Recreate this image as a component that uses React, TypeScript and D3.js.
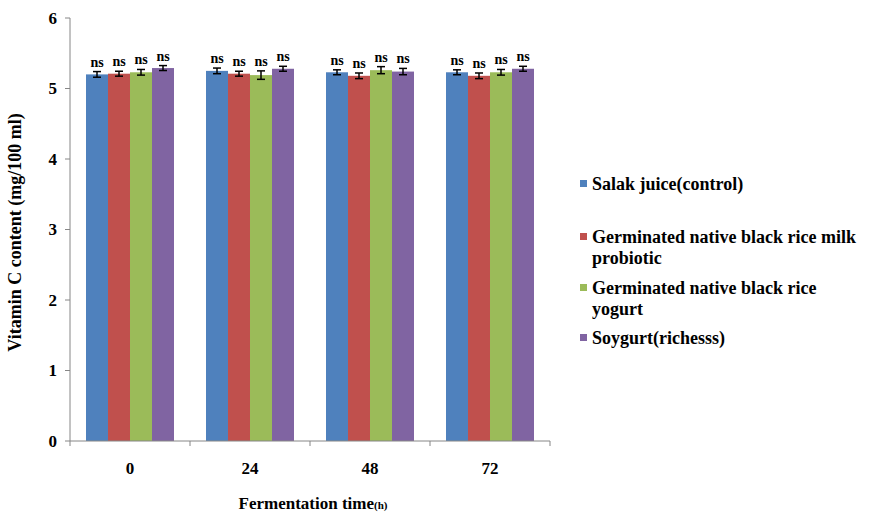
import * as d3 from "d3";

const times = ["0", "24", "48", "72"];
const seriesNames = [
  "Salak juice(control)",
  "Germinated native black rice milk probiotic",
  "Germinated native black rice yogurt",
  "Soygurt(richesss)",
];
const legendLines = [
  ["Salak juice(control)"],
  ["Germinated native black rice milk", "probiotic"],
  ["Germinated native black rice", "yogurt"],
  ["Soygurt(richesss)"],
];
const colors = ["#4F81BD", "#C0504D", "#9BBB59", "#8064A2"];
// values per series, one per fermentation time
const salak = [5.2, 5.25, 5.23, 5.23];
const riceMilk = [5.21, 5.21, 5.18, 5.18];
const riceYogurt = [5.23, 5.19, 5.26, 5.23];
const soygurt = [5.29, 5.28, 5.24, 5.28];
const errors = [
  [0.04, 0.04, 0.035, 0.035],
  [0.035, 0.035, 0.04, 0.04],
  [0.04, 0.06, 0.05, 0.04],
  [0.035, 0.035, 0.045, 0.035],
];
const yTicks = [0, 1, 2, 3, 4, 5, 6];

const W = 869;
const H = 517;
const margin = { top: 18, left: 70, right: 319, bottom: 76 };
const FONT = "'Liberation Serif', 'Times New Roman', serif";

export default function App() {
  const values = [salak, riceMilk, riceYogurt, soygurt];
  const plotW = W - margin.left - margin.right;
  const plotH = H - margin.top - margin.bottom;

  const x = d3.scaleBand().domain(times).range([0, plotW]).paddingInner(0).paddingOuter(0);
  const inner = d3
    .scaleBand()
    .domain(seriesNames)
    .range([16, x.bandwidth() - 16]);
  const y = d3.scaleLinear().domain([0, 6]).range([plotH, 0]);

  const boundaries = [0, ...times.map((t) => (x(t) as number) + x.bandwidth())];

  return (
    <svg
      width={W}
      height={H}
      style={{ position: "absolute", left: 0, top: 0, background: "#fff" }}
    >
      <g transform={`translate(${margin.left},${margin.top})`} fontFamily={FONT} fontWeight="bold">
        {/* bars */}
        {seriesNames.map((s, si) => (
          <g key={s} fill={colors[si]}>
            {times.map((t, ti) => {
              const v = values[si][ti];
              return (
                <rect
                  key={t}
                  x={(x(t) as number) + (inner(s) as number)}
                  y={y(v)}
                  width={inner.bandwidth()}
                  height={plotH - y(v)}
                />
              );
            })}
          </g>
        ))}
        {/* error bars and ns labels */}
        {seriesNames.map((s, si) =>
          times.map((t, ti) => {
            const v = values[si][ti];
            const e = errors[si][ti];
            const cx = (x(t) as number) + (inner(s) as number) + inner.bandwidth() / 2;
            return (
              <g key={s + t}>
                <g stroke="#000" strokeWidth={1.5}>
                  <line x1={cx} x2={cx} y1={y(v + e)} y2={y(v - e)} />
                  <line x1={cx - 4} x2={cx + 4} y1={y(v + e)} y2={y(v + e)} />
                  <line x1={cx - 4} x2={cx + 4} y1={y(v - e)} y2={y(v - e)} />
                </g>
                <text x={cx} y={y(v + e) - 5} textAnchor="middle" fontSize={14}>
                  ns
                </text>
              </g>
            );
          })
        )}
        {/* y axis */}
        <line x1={0} x2={0} y1={0} y2={plotH} stroke="#868686" />
        {yTicks.map((t) => (
          <g key={t} transform={`translate(0,${y(t)})`}>
            <line x1={-5} x2={0} stroke="#868686" />
            <text x={-13} dy="0.35em" textAnchor="end" fontSize={17}>
              {t}
            </text>
          </g>
        ))}
        {/* x axis */}
        <line x1={0} x2={plotW} y1={plotH} y2={plotH} stroke="#868686" />
        {boundaries.map((b, i) => (
          <line key={i} x1={b} x2={b} y1={plotH} y2={plotH + 5} stroke="#868686" />
        ))}
        {times.map((t) => (
          <text
            key={t}
            x={(x(t) as number) + x.bandwidth() / 2}
            y={plotH + 33}
            textAnchor="middle"
            fontSize={17}
          >
            {t}
          </text>
        ))}
        <text x={plotW / 2 + 3} y={plotH + 68} textAnchor="middle" fontSize={17}>
          Fermentation time
          <tspan fontSize={11}>(h)</tspan>
        </text>
        <text
          transform={`translate(${-49},${plotH / 2 + 3}) rotate(-90)`}
          textAnchor="middle"
          fontSize={18}
        >
          Vitamin C content (mg/100 ml)
        </text>
      </g>
      {/* legend */}
      <g transform="translate(580,0)" fontFamily={FONT} fontWeight="bold">
        {legendLines.map((lines, i) => {
          const ys = [190, 243, 294, 344][i];
          return (
            <g key={i}>
              <rect x={0} y={ys - 10} width={7} height={7} fill={colors[i]} />
              {lines.map((ln, li) => (
                <text key={li} x={12} y={ys + li * 21} fontSize={18}>
                  {ln}
                </text>
              ))}
            </g>
          );
        })}
      </g>
    </svg>
  );
}
